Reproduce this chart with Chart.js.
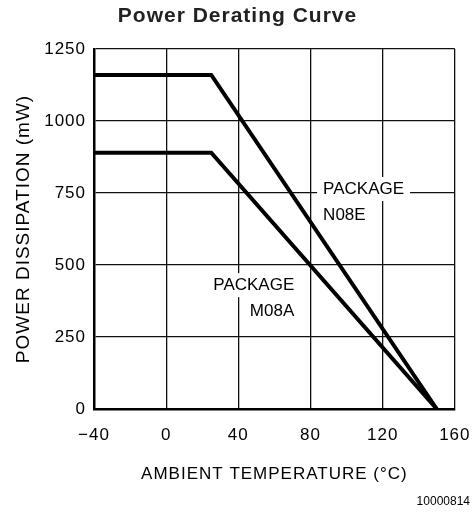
<!DOCTYPE html>
<html lang="en">
<head>
<meta charset="UTF-8" />
<title>Power Derating Curve</title>
<script src="https://cdn.jsdelivr.net/npm/chart.js"></script>
<style>
  html, body { margin: 0; padding: 0; background: #fff; }
  #chart { display: block; }
</style>
</head>
<body>
<canvas id="chart" width="475" height="513"></canvas>
<script>
// ambient temperature breakpoints (°C)
const temps = [-40, 25, 150];
// power dissipation (mW) per package
const n08e = [1160, 1160, 0];
const m08a = [890, 890, 0];

const xTicks = [-40, 0, 40, 80, 120, 160];
const yTicks = [0, 250, 500, 750, 1000, 1250];

// label anchors in data units
const labels = [
  { lines: ["PACKAGE", "N08E"], x: 87, y: 764, align: "left" },
  { lines: ["PACKAGE", "M08A"], x: 71, y: 430, align: "right" },
];

const FONT = "'Liberation Sans', Arial, sans-serif";

const toPoints = (ys) => temps.map((t, i) => ({ x: t, y: ys[i] }));

const labelPlugin = {
  id: "pkgLabels",
  beforeDraw(chart) {
    // the original lettering is a bit spaced out
    chart.ctx.letterSpacing = "1px";
  },
  beforeDatasetsDraw(chart) {
    const { ctx, scales } = chart;
    ctx.save();
    ctx.letterSpacing = "0px";
    ctx.font = "17px " + FONT;
    ctx.textBaseline = "middle";
    labels.forEach((l) => {
      const px = scales.x.getPixelForValue(l.x);
      const py = scales.y.getPixelForValue(l.y);
      const w = ctx.measureText(l.lines[0]).width;
      const left = l.align === "left" ? px : px - w;
      ctx.fillStyle = "#fff";
      ctx.fillRect(left - 6, py - 12, w + 12, 24);
      ctx.fillStyle = "#000";
      ctx.textAlign = l.align;
      ctx.fillText(l.lines[0], px, py);
      ctx.fillText(l.lines[1], px, py + 26);
    });
    ctx.restore();
  },
  afterDraw(chart) {
    const { ctx } = chart;
    ctx.save();
    ctx.letterSpacing = "0px";
    ctx.font = "12px " + FONT;
    ctx.fillStyle = "#000";
    ctx.textAlign = "right";
    ctx.textBaseline = "middle";
    ctx.fillText("10000814", 470, 502);
    ctx.restore();
  },
};

const tickText = (v) => String(v).replace("-", "\u2212");

new Chart(document.getElementById("chart"), {
  type: "line",
  data: {
    datasets: [
      { label: "N08E", data: toPoints(n08e) },
      { label: "M08A", data: toPoints(m08a) },
    ],
  },
  options: {
    responsive: false,
    animation: false,
    events: [],
    layout: { padding: { top: 0, left: 0, right: 0, bottom: 15 } },
    elements: {
      line: { borderColor: "#000", borderWidth: 4, tension: 0, borderCapStyle: "butt" },
      point: { radius: 0 },
    },
    plugins: {
      legend: { display: false },
      tooltip: { enabled: false },
      title: {
        display: true,
        text: "Power Derating Curve",
        color: "#222",
        font: { family: FONT, size: 21, weight: "bold" },
        padding: { top: 4, bottom: 19.8 },
      },
    },
    scales: {
      x: {
        type: "linear",
        min: -40,
        max: 160,
        afterBuildTicks: (s) => { s.ticks = xTicks.map((v) => ({ value: v })); },
        afterFit: (s) => { s.height = 89; },
        grid: { color: "#111", lineWidth: 1.3, drawTicks: false },
        border: { color: "#000", width: 2.5 },
        ticks: {
          color: "#000",
          font: { family: FONT, size: 17, lineHeight: 2.35 },
          padding: 6,
          callback: tickText,
        },
        title: {
          display: true,
          text: "AMBIENT TEMPERATURE (°C)",
          color: "#000",
          font: { family: FONT, size: 17 },
          padding: { top: 0, bottom: 13 },
        },
      },
      y: {
        type: "linear",
        min: 0,
        max: 1250,
        afterBuildTicks: (s) => { s.ticks = yTicks.map((v) => ({ value: v })); },
        afterFit: (s) => { s.width = 94; },
        grid: { color: "#111", lineWidth: 1.3, drawTicks: false },
        border: { color: "#000", width: 2.5 },
        ticks: { color: "#000", font: { family: FONT, size: 17 }, padding: 8, callback: tickText },
        title: {
          display: true,
          text: "POWER DISSIPATION (mW)",
          color: "#000",
          font: { family: FONT, size: 19 },
          padding: { top: 12, bottom: 0 },
        },
      },
    },
  },
  plugins: [labelPlugin],
});
</script>
</body>
</html>
